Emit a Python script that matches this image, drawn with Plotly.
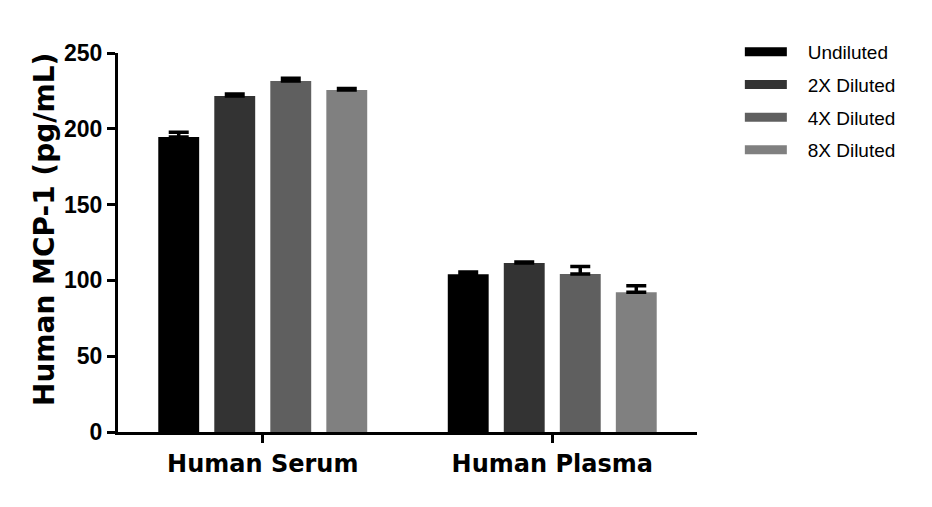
import plotly.graph_objects as go

categories = ["Human Serum", "Human Plasma"]
series = ["Undiluted", "2X Diluted", "4X Diluted", "8X Diluted"]
values = {
    "Undiluted": [194.6, 104.0],
    "2X Diluted": [221.6, 111.4],
    "4X Diluted": [231.6, 104.2],
    "8X Diluted": [225.6, 92.2],
}
errors = {
    "Undiluted": [3.2, 1.5],
    "2X Diluted": [1.4, 0.8],
    "4X Diluted": [1.8, 5.0],
    "8X Diluted": [1.0, 4.2],
}
colors = ["#000000", "#333333", "#5f5f5f", "#808080"]

fig = go.Figure()
for name, c in zip(series, colors):
    fig.add_trace(go.Bar(
        x=categories, y=values[name], name=name,
        marker=dict(color=c, line=dict(width=0)),
        error_y=dict(type="data", array=errors[name], arrayminus=[0, 0],
                     symmetric=False, color="black", thickness=3.5, width=10),
        showlegend=False))
# legend entries drawn as thick line swatches (nbsp pads the gap to the text)
for name, c in zip(series, colors):
    fig.add_trace(go.Scatter(
        x=[None], y=[None], mode="lines", name="\u00a0\u00a0\u00a0" + name,
        legendgroup=name, line=dict(color=c, width=9)))

# page body has an 8px margin, so the figure is a little smaller than the window
fig.update_layout(
    width=916, height=491,
    margin=dict(l=110, r=227, t=45, b=67),
    plot_bgcolor="white", paper_bgcolor="white",
    barmode="group", bargap=0.226, bargroupgap=0.27,
    font=dict(family="Liberation Sans, Arial", color="black"),
    legend=dict(x=1.074, y=1.053, xanchor="left", yanchor="top",
                font=dict(size=19), itemwidth=42, tracegroupgap=5,
                bgcolor="rgba(0,0,0,0)"),
    xaxis=dict(showline=True, linecolor="black", linewidth=3,
               ticks="outside", ticklen=8, tickwidth=3, tickcolor="black",
               tickfont=dict(size=24, family="DejaVu Sans", weight="bold")),
    yaxis=dict(range=[0, 250], tickvals=[0, 50, 100, 150, 200, 250],
               showline=True, linecolor="black", linewidth=3,
               ticks="outside", ticklen=8, tickwidth=3, tickcolor="black",
               showgrid=False, zeroline=False,
               tickfont=dict(size=23, weight="bold")),
)
fig.add_annotation(
    text="Human MCP-1 (pg/mL)", textangle=-90, showarrow=False,
    xref="paper", yref="paper", x=-0.126, y=0.533,
    xanchor="center", yanchor="middle",
    font=dict(size=28, family="DejaVu Sans", weight="bold"))
fig.write_html("out.html")
